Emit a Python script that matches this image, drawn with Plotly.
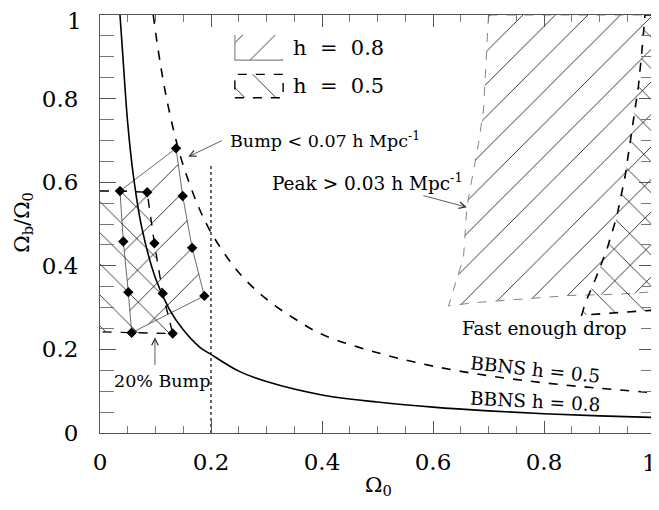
import plotly.graph_objects as go

# ---------------- data ----------------
# BBNS constraint curves (Omega_b/Omega_0 vs Omega_0)
bbns08_x = [0.036, 0.04, 0.05, 0.06, 0.075, 0.1, 0.125, 0.15, 0.18, 0.2, 0.25, 0.3, 0.4, 0.5, 0.6, 0.7, 0.8, 0.9, 1.0]
bbns08_y = [1.0, 0.925, 0.74, 0.617, 0.493, 0.37, 0.296, 0.247, 0.205, 0.188, 0.148, 0.123, 0.091, 0.074, 0.062, 0.053, 0.046, 0.041, 0.037]
bbns05_x = [0.096, 0.1, 0.11, 0.12, 0.135, 0.15, 0.175, 0.2, 0.25, 0.3, 0.35, 0.4, 0.5, 0.6, 0.7, 0.8, 0.9, 1.0]
bbns05_y = [1.0, 0.96, 0.873, 0.8, 0.711, 0.64, 0.549, 0.48, 0.384, 0.32, 0.274, 0.236, 0.192, 0.16, 0.137, 0.12, 0.107, 0.096]

# Omega_0 = 0.2 reference line
vline_x = [0.2, 0.2]
vline_y = [0.0, 0.645]

# "Bump" allowed region, h = 0.8 (diamond grid points)
bump08_x = [0.036, 0.137, 0.149, 0.166, 0.188, 0.057, 0.051, 0.042, 0.036]
bump08_y = [0.579, 0.681, 0.567, 0.443, 0.328, 0.240, 0.337, 0.458, 0.579]
# "Bump" allowed region, h = 0.5
bump05_x = [0.0, 0.036, 0.085, 0.098, 0.113, 0.131, 0.057, 0.0]
bump05_y = [0.579, 0.579, 0.576, 0.454, 0.334, 0.238, 0.240, 0.242]
bump05_pts_x = [0.085, 0.098, 0.113, 0.131]
bump05_pts_y = [0.576, 0.454, 0.334, 0.238]

# "Peak" / "Fast enough drop" region, h = 0.8
peak08_x = [0.700, 1.0, 1.0, 0.931, 0.847, 0.769, 0.676, 0.628, 0.655, 0.661, 0.682, 0.691, 0.700]
peak08_y = [1.0, 1.0, 0.338, 0.332, 0.329, 0.322, 0.312, 0.304, 0.421, 0.541, 0.693, 0.773, 1.0]
# same region, h = 0.5
peak05_x = [0.982, 1.0, 1.0, 0.955, 0.907, 0.868, 0.874, 0.892, 0.913, 0.931, 0.946, 0.958, 0.970, 0.976, 0.982]
peak05_y = [1.0, 1.0, 0.294, 0.290, 0.286, 0.282, 0.310, 0.366, 0.438, 0.517, 0.613, 0.725, 0.828, 0.908, 1.0]

# legend swatches (data coords of the two boxes)
leg08_x = [0.243, 0.330, 0.330, 0.243, 0.243]
leg08_y = [0.892, 0.892, 0.952, 0.952, 0.892]
leg08_edge_x = [0.243, 0.243, 0.330]
leg08_edge_y = [0.952, 0.892, 0.892]
leg05_x = [0.243, 0.330, 0.330, 0.243, 0.243]
leg05_y = [0.802, 0.802, 0.858, 0.858, 0.802]

tick_vals = [0, 0.2, 0.4, 0.6, 0.8, 1]
tick_text = ["0", "0.2", "0.4", "0.6", "0.8", "1"]

FONT = "DejaVu Serif"
CLEAR = "rgba(0,0,0,0)"

fig = go.Figure()

def hatch(x, y, shape, size, line_dash="solid", line_w=0.8, line_c="#555"):
    fig.add_trace(go.Scatter(
        x=x, y=y, mode="lines", fill="toself", fillcolor=CLEAR,
        fillpattern=dict(shape=shape, size=size, solidity=0.04,
                         fgcolor="#000", bgcolor=CLEAR, fgopacity=0.85),
        line=dict(color=line_c, width=line_w, dash=line_dash),
        showlegend=False, hoverinfo="skip"))

hatch(peak08_x, peak08_y, "/", 23, "dash", 0.8, "#666")
hatch(peak05_x, peak05_y, "\\", 22, "dash", 1.6, "#000")
hatch(bump08_x, bump08_y, "/", 23, "solid", 0.8, "#444")
hatch(bump05_x, bump05_y, "\\", 22, "dash", 1.4, "#000")

# legend boxes
hatch(leg08_x, leg08_y, "/", 23, "solid", 0, CLEAR)
fig.add_trace(go.Scatter(x=leg08_edge_x, y=leg08_edge_y, mode="lines",
                         line=dict(color="#888", width=1.2), showlegend=False, hoverinfo="skip"))
hatch(leg05_x, leg05_y, "\\", 22, "dash", 1.4, "#000")

# curves
fig.add_trace(go.Scatter(x=bbns08_x, y=bbns08_y, mode="lines",
                         line=dict(color="black", width=1.6, shape="spline"), showlegend=False))
fig.add_trace(go.Scatter(x=bbns05_x, y=bbns05_y, mode="lines",
                         line=dict(color="black", width=1.6, dash="dash", shape="spline"), showlegend=False))
fig.add_trace(go.Scatter(x=vline_x, y=vline_y, mode="lines",
                         line=dict(color="black", width=1.2, dash="dot"), showlegend=False))

# diamond markers
fig.add_trace(go.Scatter(x=bump08_x[:-1], y=bump08_y[:-1], mode="markers",
                         marker=dict(symbol="diamond", size=8, color="black"), showlegend=False))
fig.add_trace(go.Scatter(x=bump05_pts_x, y=bump05_pts_y, mode="markers",
                         marker=dict(symbol="diamond", size=8, color="black"), showlegend=False))

texts = [
    ("Bump < 0.07 h Mpc<sup>-1</sup>", 0.231, 0.701, "left", 0, 17.5),
    ("Peak > 0.03 h Mpc<sup>-1</sup>", 0.306, 0.601, "left", 0, 18.5),
    ("20% Bump", 0.021, 0.124, "left", 0, 17.5),
    ("Fast enough drop", 0.649, 0.250, "left", 0, 18.5),
    ("BBNS h = 0.5", 0.784, 0.151, "center", 6, 18.5),
    ("BBNS h = 0.8", 0.784, 0.075, "center", 3, 18.5),
]
for t, x, y, xa, ang, fs in texts:
    fig.add_annotation(x=x, y=y, xref="x", yref="y", text=t, showarrow=False,
                       xanchor=xa, yanchor="middle", textangle=ang,
                       font=dict(family=FONT, size=fs, color="black"))

leg_font = dict(family=FONT, size=21, color="black")
fig.add_annotation(x=0.345, y=0.921, text="h&nbsp;&nbsp;=&nbsp;&nbsp;0.8", showarrow=False,
                   xanchor="left", yanchor="middle", font=leg_font)
fig.add_annotation(x=0.345, y=0.830, text="h&nbsp;&nbsp;=&nbsp;&nbsp;0.5", showarrow=False,
                   xanchor="left", yanchor="middle", font=leg_font)

arrows = [
    (0.159, 0.661, 0.222, 0.701),
    (0.661, 0.540, 0.580, 0.569),
    (0.099, 0.229, 0.099, 0.159),
]
for hx, hy, tx, ty in arrows:
    fig.add_annotation(x=hx, y=hy, ax=tx, ay=ty, xref="x", yref="y", axref="x", ayref="y",
                       text="", showarrow=True, arrowhead=5, arrowsize=1.6, arrowwidth=0.8,
                       arrowcolor="#333", standoff=0, startstandoff=0)

# axis titles as annotations for precise placement
fig.add_annotation(x=-0.139, y=0.505, xref="paper", yref="paper",
                   text="Ω<sub>b</sub>/Ω<sub>0</sub>", showarrow=False, textangle=-90,
                   xanchor="center", yanchor="middle",
                   font=dict(family=FONT, size=21, color="black"))
fig.add_annotation(x=0.502, y=-0.127, xref="paper", yref="paper",
                   text="Ω<sub>0</sub>", showarrow=False,
                   xanchor="center", yanchor="middle",
                   font=dict(family=FONT, size=21, color="black"))

tick_font = dict(family=FONT, size=23, color="black")
# the end labels "1" sit at the page edges; they are drawn as annotations nudged inwards
x_ticktext = tick_text[:-1] + [""]
y_ticktext = tick_text[:-1] + [""]
fig.add_annotation(x=1.0, y=0, xref="x", yref="paper", text=tick_text[-1], showarrow=False,
                   xanchor="right", yanchor="top", xshift=4, yshift=-15, font=tick_font)
fig.add_annotation(x=0, y=1.0, xref="paper", yref="y", text=tick_text[-1], showarrow=False,
                   xanchor="right", yanchor="middle", xshift=-16, yshift=-6, font=tick_font)

axis_common = dict(
    range=[0, 1], tickvals=tick_vals, ticks="inside",
    showline=True, linecolor="#555", linewidth=1, mirror="ticks",
    showgrid=False, zeroline=False, tickcolor="#555",
    tickfont=tick_font, ticklabeloverflow="allow",
)
fig.update_xaxes(**axis_common, ticktext=x_ticktext, ticklen=12, tickwidth=1,
                 minor=dict(dtick=0.05, ticks="inside", ticklen=7, tickcolor="#777", showgrid=False),
                 ticklabelstandoff=8)
fig.update_yaxes(**axis_common, ticktext=y_ticktext, ticklen=16, tickwidth=1,
                 minor=dict(dtick=0.05, ticks="inside", ticklen=14, tickcolor="#777", showgrid=False),
                 ticklabelstandoff=16)

# the page body adds an 8px margin, so the figure is sized/offset to compensate
fig.update_layout(
    width=651, height=494,
    margin=dict(l=92, r=4, t=7, b=69, autoexpand=False),
    paper_bgcolor="white", plot_bgcolor="white",
    showlegend=False,
)

fig.write_html("out.html")
